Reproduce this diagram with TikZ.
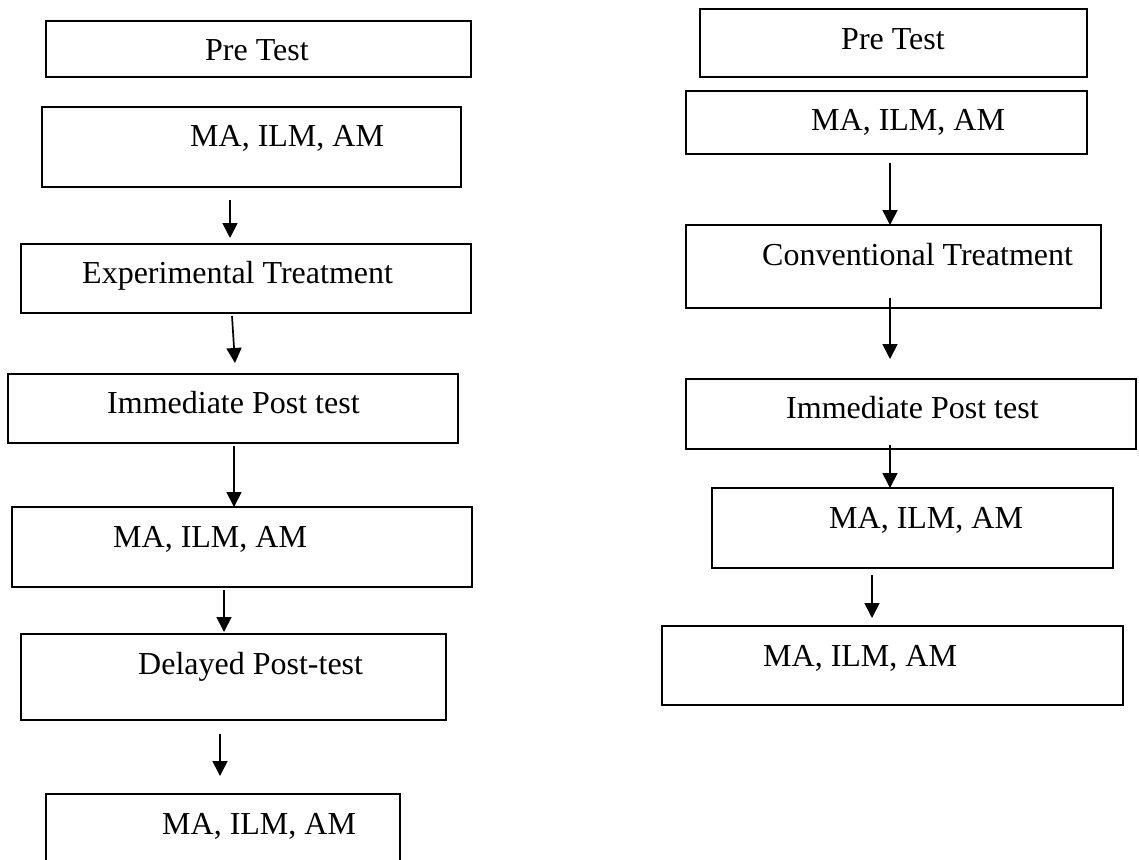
\documentclass[tikz,border=0pt]{standalone}
\usepackage{fontspec}
\setmainfont{Liberation Serif}
\usetikzlibrary{arrows.meta}
\begin{document}
\begin{tikzpicture}[x=1pt,y=-1pt,
  box/.style={draw, line width=1.7pt, inner sep=0pt, outer sep=0pt},
  lbl/.style={anchor=base west, inner sep=0pt, font=\fontsize{32}{36}\selectfont},
  arr/.style={line width=1.7pt, -{Triangle[width=15pt,length=15pt]}}]
\useasboundingbox (0,0) rectangle (1139,859);
\clip (0,0) rectangle (1139,859);

% ---- experimental group ----
\node[box, minimum width=425pt, minimum height=56pt] (b1) at (258.5,49) {};
\node[box, minimum width=419pt, minimum height=80pt] (b2) at (251.5,147) {};
\node[box, minimum width=450pt, minimum height=69pt] (b3) at (246,278.5) {};
\node[box, minimum width=450pt, minimum height=69pt] (b4) at (233,408.5) {};
\node[box, minimum width=460pt, minimum height=80pt] (b5) at (242,547) {};
\node[box, minimum width=425pt, minimum height=86pt] (b6) at (233.5,677) {};
\node[box, minimum width=354pt, minimum height=90pt] (b7) at (223,839) {};

\node[lbl] (t1) at (205,60) {Pre Test};
\node[lbl] (t2) at (190,146) {MA, ILM, AM};
\node[lbl] (t3) at (82,283) {Experimental Treatment};
\node[lbl] (t4) at (107,413) {Immediate Post test};
\node[lbl] (t5) at (113,547) {MA, ILM, AM};
\node[lbl] (t6) at (138,674) {Delayed Post-test};
\node[lbl] (t7) at (162,834) {MA, ILM, AM};

\coordinate (a1s) at (230,200); \coordinate (a1e) at (230,238);
\coordinate (a2s) at (232,316); \coordinate (a2e) at (235,363);
\coordinate (a3s) at (234,446);
\coordinate (a4s) at (224,590); \coordinate (a4e) at (224,632);
\coordinate (a5s) at (220,734); \coordinate (a5e) at (220,776);
\draw[arr] (a1s) -- (a1e);
\draw[arr] (a2s) -- (a2e);
\draw[arr] (a3s) -- (a3s |- b5.north);
\draw[arr] (a4s) -- (a4e);
\draw[arr] (a5s) -- (a5e);

% ---- control group ----
\node[box, minimum width=387pt, minimum height=68pt] (r1) at (893.5,43) {};
\node[box, minimum width=401pt, minimum height=63pt] (r2) at (886.5,122.5) {};
\node[box, minimum width=415pt, minimum height=83pt] (r3) at (893.5,266.5) {};
\node[box, minimum width=450pt, minimum height=70pt] (r4) at (911,414) {};
\node[box, minimum width=401pt, minimum height=80pt] (r5) at (912.5,528) {};
\node[box, minimum width=461pt, minimum height=79pt] (r6) at (892.5,665.5) {};

\node[lbl] (s1) at (841,49) {Pre Test};
\node[lbl] (s2) at (811,130) {MA, ILM, AM};
\node[lbl] (s3) at (762,265) {Conventional Treatment};
\node[lbl] (s4) at (786,418) {Immediate Post test};
\node[lbl] (s5) at (829,528) {MA, ILM, AM};
\node[lbl] (s6) at (763,666) {MA, ILM, AM};

\coordinate (c1s) at (890,163);
\coordinate (c2s) at (890,298); \coordinate (c2e) at (890,359);
\coordinate (c3s) at (890,445);
\coordinate (c4s) at (872,575); \coordinate (c4e) at (872,618);
\draw[arr] (c1s) -- (c1s |- r3.north);
\draw[arr] (c2s) -- (c2e);
\draw[arr] (c3s) -- (c3s |- r5.north);
\draw[arr] (c4s) -- (c4e);
\end{tikzpicture}
\end{document}
